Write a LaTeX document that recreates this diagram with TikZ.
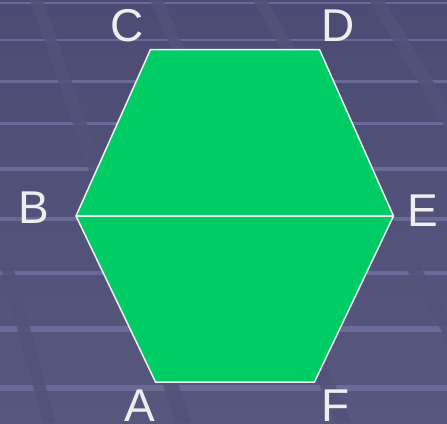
\documentclass[tikz,border=0pt]{standalone}
\usepackage{fontspec}
\setmainfont{Liberation Sans}
\definecolor{bgtop}{HTML}{4C4B73}
\definecolor{bgbot}{HTML}{58587F}
\definecolor{stripe}{HTML}{6A6A98}
\definecolor{band}{HTML}{53527A}
\definecolor{hexgreen}{HTML}{00CC66}
\definecolor{edge}{HTML}{EEEEEE}
\tikzset{
  hline/.style={stripe, line cap=butt},
  bandfill/.style={fill=band, draw=none, opacity=0.85},
  hexface/.style={fill=hexgreen, draw=edge, line width=1.5pt, line join=miter},
  diag/.style={draw=edge, line width=1.5pt},
  vlabel/.style={text=edge, inner sep=0pt, font=\fontsize{46}{46}\selectfont}
}
\begin{document}
\begin{tikzpicture}[x=1pt,y=-1pt]
\useasboundingbox (0,0) rectangle (447,423);
% background
\shade[top color=bgtop, bottom color=bgbot] (0,0) rectangle (447,423);
\foreach \yy/\w in {3/2, 40/2.5, 81/3, 123/3, 169/3.5, 219/4, 273/4.5, 329/5.5, 388/6.5}
  \draw[hline, line width=\w pt] (0,\yy) -- (447,\yy);
% diagonal bands
\fill[bandfill] (30,0) -- (43,0) -- (192,423) -- (176,423) -- cycle;
\fill[bandfill] (150,0) -- (163,0) -- (352,423) -- (336,423) -- cycle;
\fill[bandfill] (253,0) -- (267,0) -- (510,423) -- (494,423) -- cycle;
\fill[bandfill] (369,0) -- (384,0) -- (640,423) -- (622,423) -- cycle;
\fill[bandfill] (-72,0) -- (-60,0) -- (56,423) -- (43,423) -- cycle;
% hexagon vertices
\coordinate (A) at (155.5,382);
\coordinate (B) at (76,216);
\coordinate (C) at (150.5,49.5);
\coordinate (D) at (319.5,49.5);
\coordinate (E) at (393.5,216);
\coordinate (F) at (314.5,382);
\draw[hexface] (A) -- (B) -- (C) -- (D) -- (E) -- (F) -- cycle;
\draw[diag] (B) -- (E);
% labels
\node[vlabel] (labC) at (127,26) {C};
\node[vlabel] (labD) at (338,26) {D};
\node[vlabel] (labB) at (34,208) {B};
\node[vlabel] (labE) at (423,211) {E};
\node[vlabel] (labA) at (140,406) {A};
\node[vlabel] (labF) at (336,406) {F};
\end{tikzpicture}
\end{document}
